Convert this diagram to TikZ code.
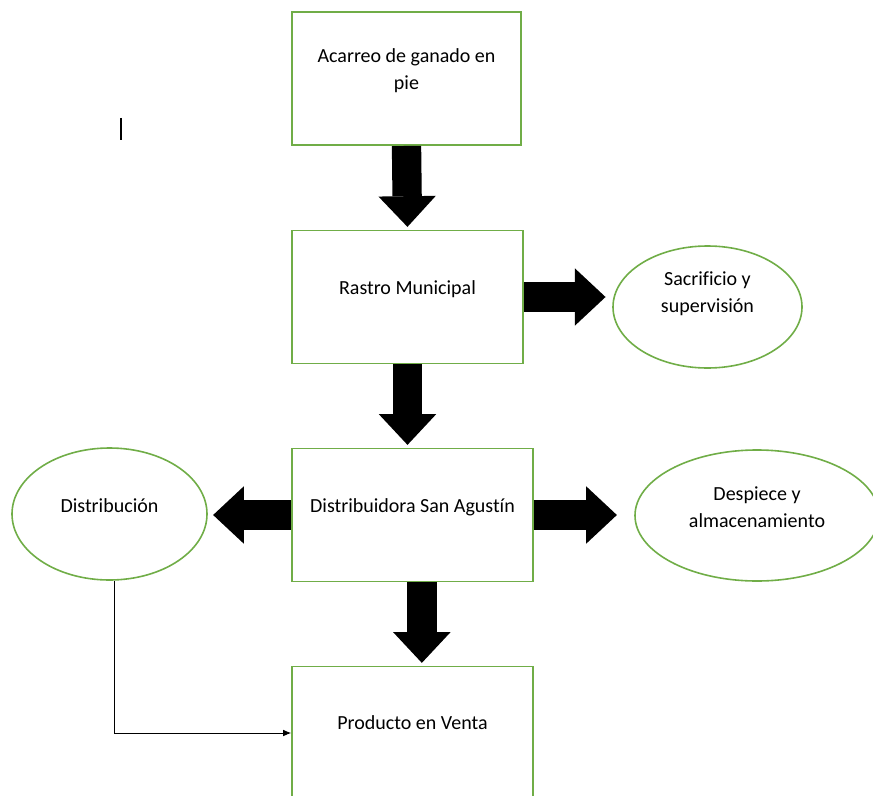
\documentclass[tikz,border=0pt]{standalone}
\usepackage{fontspec}
\setmainfont{Carlito}[Ligatures=NoCommon]
\usetikzlibrary{arrows.meta,shapes.geometric}
\definecolor{boxgreen}{RGB}{112,173,71}

\begin{document}
\begin{tikzpicture}[x=0.75pt,y=-0.75pt,
    box/.style={draw=boxgreen, line width=1.2pt, minimum height=100pt, inner sep=0pt},
    oval/.style={ellipse, draw=boxgreen, line width=1.2pt, inner sep=0pt},
    txt/.style={font=\fontsize{15}{20}\selectfont, align=center},
    big/.style={line width=22pt, -{Triangle[width=43pt,length=23pt,line width=0pt]}},
    thin/.style={line width=0.7pt, -{Latex[length=6pt,width=5pt]}}]

    \useasboundingbox (0,0) rectangle (873,795);
    \clip (0,0) rectangle (873,795);

    % boxes
    \node[box, minimum width=171.75pt] (acarreo) at (406.5,78.5) {};
    \node[txt] (acarreo-t) at ([yshift=6pt]acarreo.center) {Acarreo de ganado en\\pie};
    \node[box, minimum width=173.25pt] (rastro) at (407.5,297) {};
    \node[txt] (rastro-t) at ([yshift=6pt]rastro.center) {Rastro Municipal};
    \node[box, minimum width=180.75pt] (distrib) at (412.5,515) {};
    \node[txt] (distrib-t) at ([yshift=6pt]distrib.center) {Distribuidora San Agustín};
    \node[box, minimum width=180.75pt] (venta) at (412.5,733) {};
    \node[txt] (venta-t) at ([yshift=8pt]venta.center) {Producto en Venta};

    % ovals
    \node[oval, minimum width=141.75pt, minimum height=91.5pt] (sacr) at (707.5,307) {};
    \node[txt] (sacr-t) at ([yshift=10pt]sacr.center) {Sacrificio y\\supervisión};
    \node[oval, minimum width=146.25pt, minimum height=99pt] (dist) at (109.5,514) {};
    \node[txt] (dist-t) at ([yshift=6pt]dist.center) {Distribución};
    \node[oval, minimum width=183pt, minimum height=98.25pt] (desp) at (757,515.5) {};
    \node[txt] (desp-t) at ([yshift=6pt]desp.center) {Despiece y\\almacenamiento};

    % block arrows
    \draw[big, shorten >=2pt] (acarreo.south) -- (rastro.north);
    \draw[big, shorten >=5pt] (rastro.east) -- (rastro.east -| sacr.west);
    \draw[big, shorten >=2pt] (rastro.south) -- (rastro.south |- distrib.north);
    \draw[big, shorten >=4pt] (distrib.west) -- (distrib.west -| dist.east);
    \draw[big, shorten >=13pt] (distrib.east) -- (distrib.east -| desp.west);
    \draw[big, shorten >=2pt] ([xshift=7pt]distrib.south) -- ([xshift=7pt]venta.north);

    % thin connector
    \draw[thin] ([xshift=4pt]dist.south) |- (venta.west);

    % cursor mark
    \draw[line width=1pt] (121,118) -- (121,140);

\end{tikzpicture}
\end{document}
